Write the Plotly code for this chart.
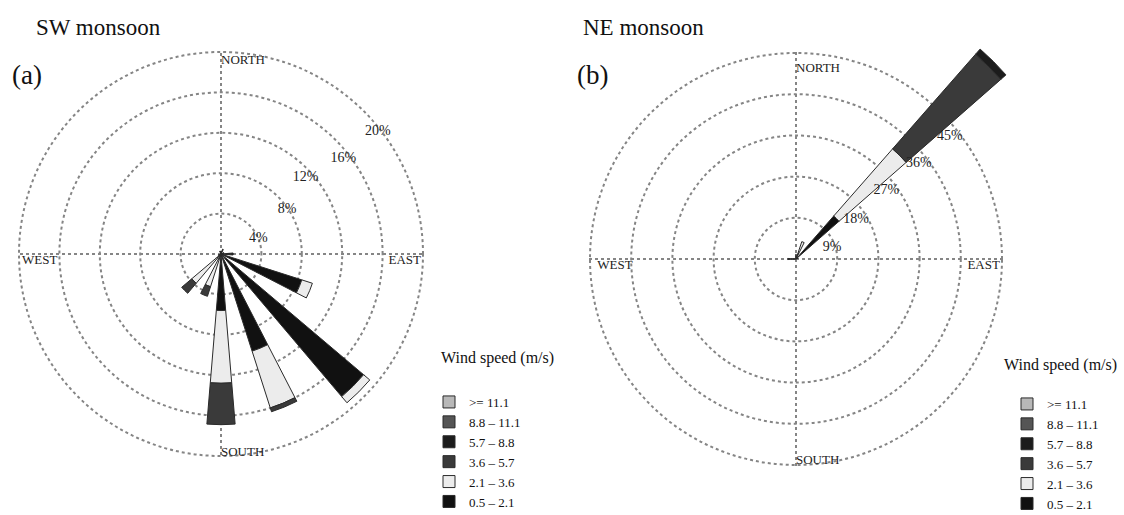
import math
import plotly.graph_objects as go

# ---------------- data ----------------
directions = [0, 22.5, 45, 67.5, 90, 112.5, 135, 157.5,
              180, 202.5, 225, 247.5, 270, 292.5, 315, 337.5]
speed_classes = ["0.5 \u2013 2.1", "2.1 \u2013 3.6", "3.6 \u2013 5.7",
                 "5.7 \u2013 8.8", "8.8 \u2013 11.1", "&gt;= 11.1"]
class_colors = ["#111111", "#ececec", "#3a3a3a", "#1c1c1c", "#555555", "#b8b8b8"]

# SW monsoon frequencies (%) per direction, one list per speed class
sw_c1 = [0.3, 0.5, 0, 0.3, 1.2, 8.4, 18.5, 10.1, 5.6, 0.6, 0.6, 0.3, 0, 0, 0, 0.3]
sw_c2 = [0, 0, 0, 0, 0, 1.1, 0.8, 5.9, 7.2, 2.8, 3.2, 0, 0, 0, 0, 0]
sw_c3 = [0, 0, 0, 0, 0, 0, 0, 0.4, 4.1, 1.0, 1.3, 0, 0, 0, 0, 0]
sw_c4 = [0] * 16
sw_c5 = [0] * 16
sw_c6 = [0] * 16

# NE monsoon frequencies (%)
ne_c1 = [1.0, 1.5, 12.5, 0.5, 0, 0, 0, 0, 0, 0, 0, 0, 1.2, 0, 0, 0]
ne_c2 = [0, 2.5, 19.5, 0, 0, 0, 0, 0, 0, 0, 0, 0, 0.6, 0, 0, 0]
ne_c3 = [0, 0, 27.5, 0, 0, 0, 0, 0, 0, 0, 0, 0, 0, 0, 0, 0]
ne_c4 = [0, 0, 1.5, 0, 0, 0, 0, 0, 0, 0, 0, 0, 0, 0, 0, 0]
ne_c5 = [0] * 16
ne_c6 = [0] * 16

sw_rings = [4, 8, 12, 16, 20]
ne_rings = [9, 18, 27, 36, 45]
compass = ["NORTH", "EAST", "SOUTH", "WEST"]
compass_theta = [0, 90, 180, 270]

sw_series = [sw_c1, sw_c2, sw_c3, sw_c4, sw_c5, sw_c6]
ne_series = [ne_c1, ne_c2, ne_c3, ne_c4, ne_c5, ne_c6]

# ---------------- layout helpers ----------------
W, H = 1124, 515
SERIF = "Liberation Serif"
# ring-label placement (angle, fraction of ring value) per ring
SW_LABEL_POS = [(68, 1.0), (56, 0.985), (48, 0.94), (52, 0.96), (52, 0.985)]
NE_LABEL_POS = [(72, 0.92), (57, 0.87), (53, 0.915), (52, 0.945), (51.5, 0.955)]
fig = go.Figure()


def bars(series, polar, legend, keep, showlegend, width):
    for name, vals, col in zip(speed_classes, series, class_colors):
        th = [d for d in directions if keep(d)]
        rr = [v for d, v in zip(directions, vals) if keep(d)]
        fig.add_trace(go.Barpolar(
            r=rr, theta=th, width=width, name=name,
            marker=dict(color=col, line=dict(color="#2a2a2a", width=1)),
            subplot=polar, legend=legend, showlegend=showlegend,
        ))


def ring_labels(polar, rings, pos):
    fig.add_trace(go.Scatterpolar(
        r=[v * f for v, (a, f) in zip(rings, pos)], theta=[a for a, f in pos],
        text=[f"{v}%" for v in rings], mode="text",
        textfont=dict(family=SERIF, size=14, color="#222"),
        subplot=polar, showlegend=False, cliponaxis=False, hoverinfo="skip",
    ))


def compass_labels(polar, outer, fn, fe, fs, fw):
    fig.add_trace(go.Scatterpolar(
        r=[outer * fn, outer * fe, outer * fs, outer * fw],
        theta=compass_theta, text=compass, mode="text",
        textposition=["middle right", "bottom left", "bottom right", "bottom right"],
        textfont=dict(family=SERIF, size=13, color="#222"),
        subplot=polar, showlegend=False, cliponaxis=False, hoverinfo="skip",
    ))


# SW monsoon rose
bars(sw_series, "polar", "legend", lambda d: True, True, 9.5)
ring_labels("polar", sw_rings, SW_LABEL_POS)
compass_labels("polar", sw_rings[-1], 0.955, 0.99, 0.95, 0.985)
# NE monsoon rose: the long NE arm runs past the outer ring, so it is drawn on
# an overlaid sector polar with the same centre and scale
bars(ne_series, "polar2", "legend2", lambda d: d != 45, True, 8)
compass_labels("polar2", ne_rings[-1], 0.925, 0.99, 0.95, 0.965)
bars(ne_series, "polar3", "legend2", lambda d: d == 45, False, 7.5)
ring_labels("polar3", ne_rings, NE_LABEL_POS)


def domain(cx, cy, rad):
    return dict(x=[(cx - rad) / W, (cx + rad) / W],
                y=[1 - (cy + rad) / H, 1 - (cy - rad) / H])


GRID_C, GRID_W = "#858585", 2


def polar_layout(cx, cy, rpx, rings):
    k = 1.009
    return dict(
        domain=domain(cx, cy, rpx * k),
        bgcolor="rgba(0,0,0,0)",
        barmode="stack",
        radialaxis=dict(range=[0, rings[-1] * k], tickvals=rings, showticklabels=False,
                        ticks="", showline=False, gridcolor=GRID_C,
                        gridwidth=GRID_W, griddash="dot"),
        angularaxis=dict(rotation=90, direction="clockwise",
                         tickvals=compass_theta, showticklabels=False, ticks="",
                         showline=False, gridcolor=GRID_C,
                         gridwidth=GRID_W, griddash="dot"),
    )


# NE overlay: sector [12, 55] deg (screen), same px-per-% as polar2
NE_CX, NE_CY, NE_R45 = 796, 259, 206
ovl_max = 62.0
ovl_rad = NE_R45 / 45 * ovl_max
s0, s1 = 12, 55
wx = ovl_rad * math.cos(math.radians(s0))
hy = ovl_rad * math.sin(math.radians(s1))
polar3 = dict(
    domain=dict(x=[NE_CX / W, (NE_CX + wx) / W],
                y=[1 - NE_CY / H, 1 - (NE_CY - hy) / H]),
    sector=[s0, s1],
    bgcolor="rgba(0,0,0,0)",
    barmode="stack",
    radialaxis=dict(range=[0, ovl_max], showticklabels=False, ticks="",
                    showline=False, showgrid=False),
    angularaxis=dict(rotation=90, direction="clockwise", showticklabels=False,
                     ticks="", showline=False, showgrid=False),
)

legend_common = dict(
    font=dict(family=SERIF, size=13, color="#111"),
    traceorder="reversed", bgcolor="rgba(0,0,0,0)",
    xanchor="left", yanchor="top", tracegroupgap=0,
)


def ann(text, x, y, size):
    return dict(text=text, x=x / W, y=1 - y / H, xref="paper", yref="paper",
                xanchor="left", yanchor="middle", showarrow=False,
                font=dict(family=SERIF, size=size, color="#111"))


fig.update_layout(
    width=W, height=H,
    margin=dict(l=0, r=0, t=0, b=0, autoexpand=False),
    paper_bgcolor="white",
    polar=polar_layout(221, 254, 202, sw_rings),
    polar2=polar_layout(NE_CX, NE_CY, NE_R45, ne_rings),
    polar3=polar3,
    legend=dict(x=429 / W, y=1 - 387 / H, **legend_common),
    legend2=dict(x=1007 / W, y=1 - 389 / H, **legend_common),
    annotations=[
        ann("SW monsoon", 34, 27, 23),
        ann("(a)", 10, 75, 27),
        ann("NE monsoon", 581, 27, 23),
        ann("(b)", 575, 75, 27),
        ann("Wind speed (m/s)", 439, 358, 16),
        ann("Wind speed (m/s)", 1002, 365, 16),
    ],
)

fig.write_html("out.html")
